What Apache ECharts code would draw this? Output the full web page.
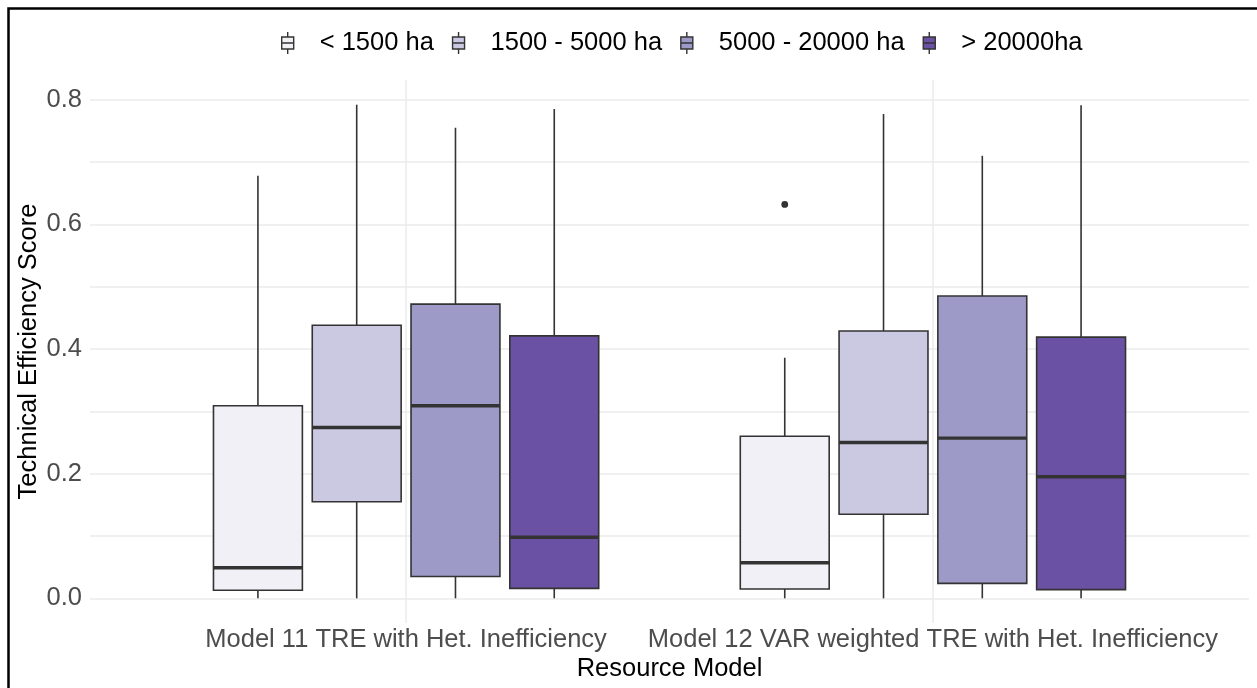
<!DOCTYPE html>
<html>
<head>
<meta charset="utf-8">
<script src="https://cdn.jsdelivr.net/npm/echarts@6/dist/echarts.min.js"></script>
<style>
  html, body { margin: 0; padding: 0; background: #ffffff; }
  #chart { width: 1257px; height: 688px; }
</style>
</head>
<body>
<div id="chart"></div>
<script>
// Categories on the x axis and the farm-size classes that are dodged inside each
const models = ['Model 11 TRE with Het. Inefficiency', 'Model 12 VAR weighted TRE with Het. Inefficiency'];
const sizeClasses = ['< 1500 ha', '1500 - 5000 ha', '5000 - 20000 ha', '> 20000ha'];
const classColors = ['#F2F0F7', '#CBC9E2', '#9E9AC8', '#6A51A3'];

// Five-number summaries, one row per model: [lower whisker, Q1, median, Q3, upper whisker]
const statsSmall  = [[0, 0.013, 0.049, 0.309, 0.678], [0, 0.015, 0.057, 0.260, 0.386]];
const statsMedium = [[0, 0.155, 0.274, 0.438, 0.792], [0, 0.135, 0.250, 0.429, 0.777]];
const statsLarge  = [[0, 0.035, 0.309, 0.472, 0.755], [0, 0.024, 0.257, 0.485, 0.710]];
const statsXLarge = [[0, 0.016, 0.098, 0.421, 0.785], [0, 0.014, 0.195, 0.419, 0.791]];
const statsByClass = [statsSmall, statsMedium, statsLarge, statsXLarge];

// Outlying observations: [model index, size class index, score]
const outliers = [[1, 0, 0.632]];

// Axis ticks
const yTickLabels = [0, 0.2, 0.4, 0.6, 0.8];
const yGridLines = [0, 0.1, 0.2, 0.3, 0.4, 0.5, 0.6, 0.7, 0.8];
const xPositions = [1, 2];

const FONT = "'Liberation Sans', Arial, Helvetica, sans-serif";
const EDGE = '#333333';
const DODGE = 0.1875;          // horizontal step between dodged boxes (axis units)
const BOX_W = DODGE * 0.9;     // box width (axis units)

function dodgeX(modelIdx, classIdx) {
  return xPositions[modelIdx] + (classIdx - (sizeClasses.length - 1) / 2) * DODGE;
}

function makeBoxRenderer(classIdx) {
  return function (params, api) {
    const m = api.value(0);
    const xc = dodgeX(m, classIdx);
    const lo = api.value(1), q1 = api.value(2), med = api.value(3), q3 = api.value(4), hi = api.value(5);
    const cx = api.coord([xc, lo])[0];
    const left = api.coord([xc - BOX_W / 2, lo])[0];
    const right = api.coord([xc + BOX_W / 2, lo])[0];
    const yLo = api.coord([xc, lo])[1];
    const yQ1 = api.coord([xc, q1])[1];
    const yMed = api.coord([xc, med])[1];
    const yQ3 = api.coord([xc, q3])[1];
    const yHi = api.coord([xc, hi])[1];
    const lineStyle = { stroke: EDGE, lineWidth: 1.6 };
    return {
      type: 'group',
      children: [
        { type: 'line', shape: { x1: cx, y1: yHi, x2: cx, y2: yQ3 }, style: lineStyle },
        { type: 'line', shape: { x1: cx, y1: yQ1, x2: cx, y2: yLo }, style: lineStyle },
        { type: 'rect', shape: { x: left, y: yQ3, width: right - left, height: yQ1 - yQ3 },
          style: { fill: classColors[classIdx], stroke: EDGE, lineWidth: 1.6 } },
        { type: 'line', shape: { x1: left, y1: yMed, x2: right, y2: yMed },
          style: { stroke: EDGE, lineWidth: 3.4 } }
      ]
    };
  };
}

const boxSeries = sizeClasses.map(function (name, k) {
  return {
    name: name,
    type: 'custom',
    renderItem: makeBoxRenderer(k),
    itemStyle: { color: classColors[k], borderColor: EDGE, borderWidth: 1.6 },
    encode: { x: 0, y: [1, 2, 3, 4, 5] },
    data: statsByClass[k].map(function (s, m) { return [m].concat(s); }),
    silent: true,
    clip: false
  };
});

const outlierSeries = {
  type: 'custom',
  renderItem: function (params, api) {
    const p = api.coord([dodgeX(api.value(0), api.value(1)), api.value(2)]);
    return { type: 'circle', shape: { cx: p[0], cy: p[1], r: 3.4 }, style: { fill: EDGE } };
  },
  encode: { x: 0, y: 2 },
  data: outliers,
  silent: true,
  clip: false
};

const chart = echarts.init(document.getElementById('chart'), null, { renderer: 'canvas' });
chart.setOption({
  animation: false,
  backgroundColor: '#ffffff',
  textStyle: { fontFamily: FONT },
  grid: { left: 90, right: 8, top: 80, bottom: 65, containLabel: false, outerBoundsMode: 'none' },
  legend: {
    data: sizeClasses,
    left: 281,
    top: 30,
    padding: 0,
    itemWidth: 12,
    itemHeight: 22,
    itemGap: 18,
    selectedMode: false,
    icon: 'path://M6,0L6,5M0,5L12,5L12,17L0,17ZM0,11L12,11M6,17L6,22',
    itemStyle: { borderColor: EDGE, borderWidth: 1.4 },
    textStyle: { fontFamily: FONT, fontSize: 25.5, color: '#000000', padding: [0, 0, 0, 21] }
  },
  xAxis: {
    type: 'value',
    min: 0.4,
    max: 2.6,
    axisLine: { show: false },
    axisTick: { show: false, customValues: xPositions },
    axisLabel: {
      customValues: xPositions,
      formatter: function (v) { return models[Math.round(v) - 1]; },
      color: '#4D4D4D',
      fontSize: 25.5,
      fontFamily: FONT,
      margin: 4
    },
    splitLine: { show: true, lineStyle: { color: '#EBEBEB', width: 1.5 } },
    name: 'Resource Model',
    nameLocation: 'middle',
    nameGap: 33,
    nameMoveOverlap: false,
    nameTextStyle: { color: '#000000', fontSize: 25.5, fontFamily: FONT }
  },
  yAxis: {
    type: 'value',
    min: -0.0396,
    max: 0.8316,
    axisLine: { show: false },
    axisTick: { show: false, customValues: yGridLines },
    axisLabel: {
      customValues: yTickLabels,
      formatter: function (v) { return v.toFixed(1); },
      color: '#4D4D4D',
      fontSize: 25.5,
      fontFamily: FONT,
      margin: 8
    },
    splitLine: { show: true, lineStyle: { color: '#EBEBEB', width: 1.5 } },
    name: 'Technical Efficiency Score',
    nameLocation: 'middle',
    nameGap: 48,
    nameRotate: 90,
    nameMoveOverlap: false,
    nameTextStyle: { color: '#000000', fontSize: 25.5, fontFamily: FONT }
  },
  graphic: [{
    type: 'rect',
    silent: true,
    z: 100,
    shape: { x: 8.5, y: 8.5, width: 1400, height: 900 },
    style: { fill: 'none', stroke: '#000000', lineWidth: 2.5 }
  }],
  series: boxSeries.concat([outlierSeries])
});
</script>
</body>
</html>
